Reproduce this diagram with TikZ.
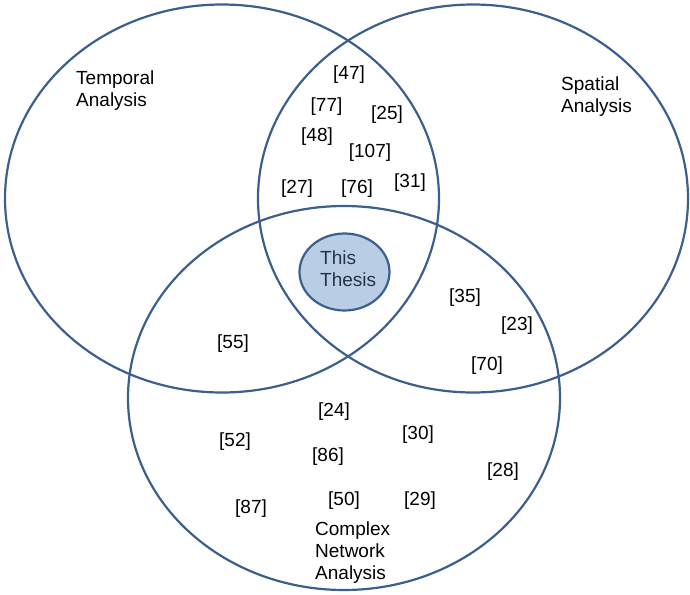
\documentclass[tikz,border=0pt]{standalone}
\usepackage{fontspec}
\setmainfont{Liberation Sans}
\definecolor{vennline}{HTML}{3B5F8E}
\definecolor{thesisfill}{HTML}{B9CDE5}
\definecolor{thesistext}{HTML}{243447}
\tikzset{
  venn/.style={line width=2.2pt, draw=vennline},
  refnum/.style={font=\fontsize{19}{22}\selectfont, inner sep=0pt},
  arealabel/.style={font=\fontsize{19}{22}\selectfont, align=left, anchor=north west, inner sep=0pt}
}
\begin{document}
\begin{tikzpicture}[x=1pt, y=-1pt]
    \useasboundingbox (0,0) rectangle (690,594);
    % the three fields
    \draw[venn] (222,198.5) ellipse (217pt and 194pt);
    \draw[venn] (473,198.5) ellipse (215pt and 194pt);
    \draw[venn] (344,398) ellipse (216pt and 192pt);
    \draw[venn, fill=thesisfill] (344.5,272) ellipse (45pt and 38.5pt);
    % field names
    \node[arealabel] (temporal) at (76,70.5) {Temporal\\Analysis};
    \node[arealabel] (spatial) at (561,76.5) {Spatial\\Analysis};
    \node[arealabel] (network) at (315,521.5) {Complex\\Network\\Analysis};
    \node[arealabel, text=thesistext] (thesis) at (320,250.5) {This\\Thesis};
    % references
    \node[refnum] (r47) at (349,75) {[47]};
    \node[refnum] (r77) at (326.5,107) {[77]};
    \node[refnum] (r25) at (387,115) {[25]};
    \node[refnum] (r48) at (317,137) {[48]};
    \node[refnum] (r107) at (370,153) {[107]};
    \node[refnum] (r27) at (297,189) {[27]};
    \node[refnum] (r76) at (357,189) {[76]};
    \node[refnum] (r31) at (410,183) {[31]};
    \node[refnum] (r35) at (465,298) {[35]};
    \node[refnum] (r23) at (517,326) {[23]};
    \node[refnum] (r70) at (487,366) {[70]};
    \node[refnum] (r55) at (233,344) {[55]};
    \node[refnum] (r24) at (334,412) {[24]};
    \node[refnum] (r52) at (235,442) {[52]};
    \node[refnum] (r86) at (328,457) {[86]};
    \node[refnum] (r30) at (418,435) {[30]};
    \node[refnum] (r28) at (503,472) {[28]};
    \node[refnum] (r87) at (251,509) {[87]};
    \node[refnum] (r50) at (344,501) {[50]};
    \node[refnum] (r29) at (420,501) {[29]};
\end{tikzpicture}
\end{document}
